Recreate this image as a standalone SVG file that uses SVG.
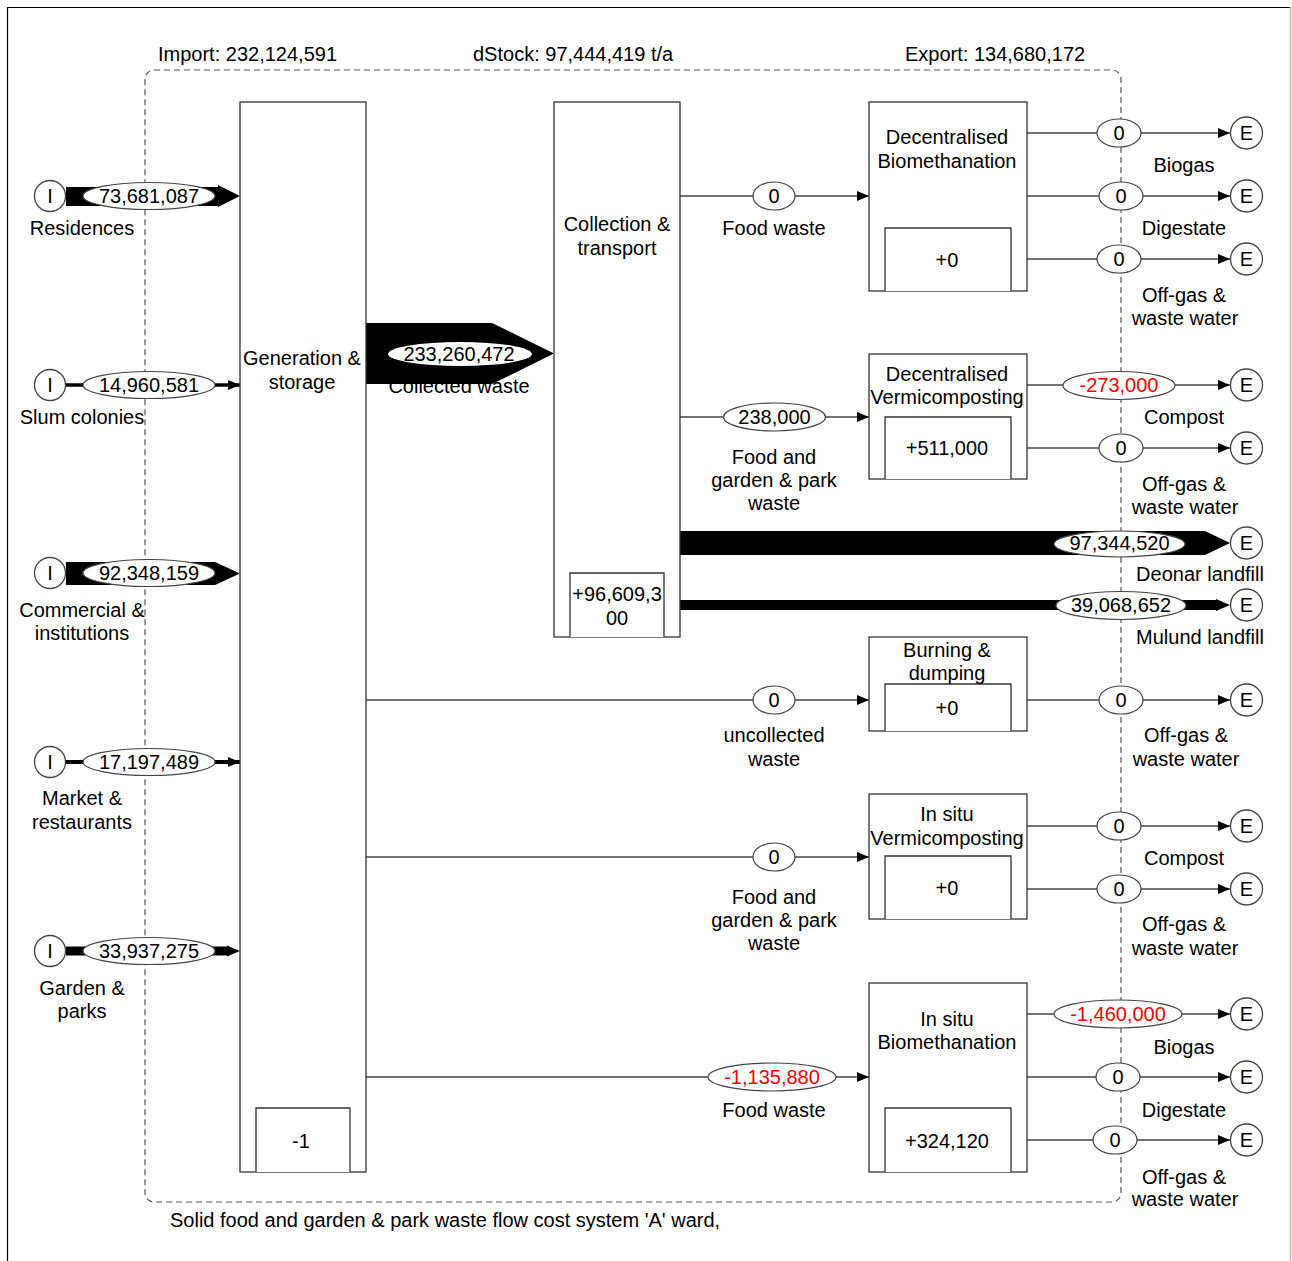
<svg xmlns="http://www.w3.org/2000/svg" width="1292" height="1261" viewBox="0 0 1292 1261">
<style>
text{font-family:"Liberation Sans",Arial,sans-serif;font-size:20px;fill:#000}
.c{text-anchor:middle}
.red{fill:#ff0000}
.box{fill:#fff;stroke:#333;stroke-width:1.3}
.inner{fill:#fff;stroke:#333;stroke-width:1.3}
.ln{fill:none;stroke:#444;stroke-width:1.4}
.band{fill:#000;stroke:none}
.ell{fill:#fff;stroke:#444;stroke-width:1.2}
.term{fill:#fff;stroke:#444;stroke-width:1.3}
.sys{fill:none;stroke:#555;stroke-width:1.2;stroke-dasharray:6 4}
</style>
<defs>
<marker id="ah" markerUnits="userSpaceOnUse" markerWidth="12" markerHeight="10" refX="12" refY="5" orient="auto" viewBox="0 0 12 10">
<path d="M0,0 L12,5 L0,10 z" fill="#000"/>
</marker>
</defs>
<rect width="1292" height="1261" fill="#fff"/>
<path d="M7.5,1261 V7.5 H1290" fill="none" stroke="#000" stroke-width="1.2"/>
<line x1="1290.5" y1="7" x2="1290.5" y2="1261" stroke="#bbb" stroke-width="1.5"/>

<g id="system-boundary">
<rect class="sys" x="145" y="70" width="976" height="1132" rx="9"/>
<text x="158" y="61">Import: 232,124,591</text>
<text x="473" y="61">dStock: 97,444,419 t/a</text>
<text x="905" y="61">Export: 134,680,172</text>
<text x="170" y="1227">Solid food and garden &amp; park waste flow cost system 'A' ward,</text>
</g>

<g id="connectors">
<!-- inputs -->
<polygon class="band" points="66,187 218,187 218,185 240,196 218,207 218,206 66,206"/>
<line class="ln" x1="66" y1="385" x2="240" y2="385" stroke="#000" style="stroke:#000;stroke-width:3.6" marker-end="url(#ah)"/>
<polygon class="band" points="66,562 215,562 240,573.5 215,585 66,585"/>
<line class="ln" x1="66" y1="762" x2="240" y2="762" style="stroke:#000;stroke-width:4.2" marker-end="url(#ah)"/>
<polygon class="band" points="66,946.5 227,946.5 227,945.5 240,951 227,956.5 227,955.5 66,955.5"/>
<ellipse class="ell" cx="149" cy="196" rx="66" ry="13.5"/>
<text class="c" x="149" y="203">73,681,087</text>
<ellipse class="ell" cx="149" cy="385" rx="66" ry="13.5"/>
<text class="c" x="149" y="392">14,960,581</text>
<ellipse class="ell" cx="149" cy="573" rx="66" ry="13.5"/>
<text class="c" x="149" y="580">92,348,159</text>
<ellipse class="ell" cx="149" cy="762" rx="66" ry="13.5"/>
<text class="c" x="149" y="769">17,197,489</text>
<ellipse class="ell" cx="149" cy="951" rx="66" ry="13.5"/>
<text class="c" x="149" y="958">33,937,275</text>

<!-- collected waste -->
<text class="c" x="459" y="393">Collected waste</text>
<polygon class="band" points="366,323 492,323 554,353.5 492,384 366,384"/>
<ellipse class="ell" cx="460" cy="354" rx="72" ry="12" style="stroke:none"/>
<text class="c" x="459" y="361">233,260,472</text>

<!-- from collection -->
<line class="ln" x1="680" y1="196" x2="869" y2="196" marker-end="url(#ah)"/>
<ellipse class="ell" cx="774" cy="196" rx="21" ry="14"/>
<text class="c" x="774" y="203">0</text>
<text class="c" x="774" y="235">Food waste</text>

<line class="ln" x1="680" y1="417" x2="869" y2="417" marker-end="url(#ah)"/>
<ellipse class="ell" cx="774.5" cy="417" rx="51" ry="14"/>
<text class="c" x="774.5" y="424">238,000</text>
<text class="c" x="774" y="464">Food and</text>
<text class="c" x="774" y="487">garden &amp; park</text>
<text class="c" x="774" y="510">waste</text>

<polygon class="band" points="680,531 1205,531 1230,543 1205,555 680,555"/>
<ellipse class="ell" cx="1119.5" cy="544" rx="65.5" ry="13"/>
<text class="c" x="1119.5" y="550">97,344,520</text>
<text class="c" x="1200" y="581">Deonar landfill</text>

<polygon class="band" points="680,600 1216,600 1216,599 1230,605 1216,611 1216,610 680,610"/>
<ellipse class="ell" cx="1121" cy="605.5" rx="65" ry="14"/>
<text class="c" x="1121" y="612">39,068,652</text>
<text class="c" x="1200" y="644">Mulund landfill</text>

<!-- from generation -->
<line class="ln" x1="366" y1="700" x2="869" y2="700" marker-end="url(#ah)"/>
<ellipse class="ell" cx="774" cy="700" rx="21" ry="14"/>
<text class="c" x="774" y="707">0</text>
<text class="c" x="774" y="742">uncollected</text>
<text class="c" x="774" y="766">waste</text>

<line class="ln" x1="366" y1="857" x2="869" y2="857" marker-end="url(#ah)"/>
<ellipse class="ell" cx="774" cy="857" rx="21" ry="14"/>
<text class="c" x="774" y="864">0</text>
<text class="c" x="774" y="904">Food and</text>
<text class="c" x="774" y="927">garden &amp; park</text>
<text class="c" x="774" y="950">waste</text>

<line class="ln" x1="366" y1="1077" x2="869" y2="1077" marker-end="url(#ah)"/>
<ellipse class="ell" cx="772" cy="1077" rx="64" ry="14"/>
<text class="c red" x="772" y="1084">-1,135,880</text>
<text class="c" x="774" y="1117">Food waste</text>

<!-- exports -->
<line class="ln" x1="1027" y1="133" x2="1230" y2="133" marker-end="url(#ah)"/>
<ellipse class="ell" cx="1119" cy="133" rx="22" ry="14"/>
<text class="c" x="1119" y="140">0</text>
<text class="c" x="1184" y="172">Biogas</text>

<line class="ln" x1="1027" y1="196" x2="1230" y2="196" marker-end="url(#ah)"/>
<ellipse class="ell" cx="1121" cy="196" rx="22" ry="14"/>
<text class="c" x="1121" y="203">0</text>
<text class="c" x="1184" y="235">Digestate</text>

<line class="ln" x1="1027" y1="259" x2="1230" y2="259" marker-end="url(#ah)"/>
<ellipse class="ell" cx="1119" cy="259" rx="22" ry="14"/>
<text class="c" x="1119" y="266">0</text>
<text class="c" x="1184" y="302">Off-gas &amp;</text>
<text class="c" x="1185" y="325">waste water</text>

<line class="ln" x1="1027" y1="385" x2="1230" y2="385" marker-end="url(#ah)"/>
<ellipse class="ell" cx="1119" cy="385.5" rx="56" ry="14"/>
<text class="c red" x="1119" y="392">-273,000</text>
<text class="c" x="1184" y="424">Compost</text>

<line class="ln" x1="1027" y1="448" x2="1230" y2="448" marker-end="url(#ah)"/>
<ellipse class="ell" cx="1121" cy="448" rx="22" ry="14"/>
<text class="c" x="1121" y="455">0</text>
<text class="c" x="1184" y="491">Off-gas &amp;</text>
<text class="c" x="1185" y="514">waste water</text>

<line class="ln" x1="1027" y1="700" x2="1230" y2="700" marker-end="url(#ah)"/>
<ellipse class="ell" cx="1121" cy="700" rx="22" ry="14"/>
<text class="c" x="1121" y="707">0</text>
<text class="c" x="1186" y="742">Off-gas &amp;</text>
<text class="c" x="1186" y="766">waste water</text>

<line class="ln" x1="1027" y1="826" x2="1230" y2="826" marker-end="url(#ah)"/>
<ellipse class="ell" cx="1119" cy="826" rx="22" ry="14"/>
<text class="c" x="1119" y="833">0</text>
<text class="c" x="1184" y="865">Compost</text>

<line class="ln" x1="1027" y1="889" x2="1230" y2="889" marker-end="url(#ah)"/>
<ellipse class="ell" cx="1119" cy="889" rx="22" ry="14"/>
<text class="c" x="1119" y="896">0</text>
<text class="c" x="1184" y="931">Off-gas &amp;</text>
<text class="c" x="1185" y="955">waste water</text>

<line class="ln" x1="1027" y1="1014" x2="1230" y2="1014" marker-end="url(#ah)"/>
<ellipse class="ell" cx="1118" cy="1014" rx="64" ry="14"/>
<text class="c red" x="1118" y="1021">-1,460,000</text>
<text class="c" x="1184" y="1054">Biogas</text>

<line class="ln" x1="1027" y1="1077" x2="1230" y2="1077" marker-end="url(#ah)"/>
<ellipse class="ell" cx="1118" cy="1077" rx="22" ry="14"/>
<text class="c" x="1118" y="1084">0</text>
<text class="c" x="1184" y="1117">Digestate</text>

<line class="ln" x1="1027" y1="1140" x2="1230" y2="1140" marker-end="url(#ah)"/>
<ellipse class="ell" cx="1115" cy="1140" rx="22" ry="14"/>
<text class="c" x="1115" y="1147">0</text>
<text class="c" x="1184" y="1184">Off-gas &amp;</text>
<text class="c" x="1185" y="1206">waste water</text>
</g>

<g id="inputs">
<g id="in-residences"><circle class="term" cx="50" cy="196" r="15.5"/><text class="c" x="50" y="203">I</text><text class="c" x="82" y="235">Residences</text></g>
<g id="in-slum"><circle class="term" cx="50" cy="385" r="15.5"/><text class="c" x="50" y="392">I</text><text class="c" x="82" y="424">Slum colonies</text></g>
<g id="in-commercial"><circle class="term" cx="50" cy="573" r="15.5"/><text class="c" x="50" y="580">I</text><text class="c" x="82" y="617">Commercial &amp;</text><text class="c" x="82" y="640">institutions</text></g>
<g id="in-market"><circle class="term" cx="50" cy="762" r="15.5"/><text class="c" x="50" y="769">I</text><text class="c" x="82" y="805">Market &amp;</text><text class="c" x="82" y="829">restaurants</text></g>
<g id="in-garden"><circle class="term" cx="50" cy="951" r="15.5"/><text class="c" x="50" y="958">I</text><text class="c" x="82" y="995">Garden &amp;</text><text class="c" x="82" y="1018">parks</text></g>
</g>

<g id="exports">
<g id="e1"><circle class="term" cx="1246.5" cy="133" r="16"/><text class="c" x="1246.5" y="140">E</text></g>
<g id="e2"><circle class="term" cx="1246.5" cy="196" r="16"/><text class="c" x="1246.5" y="203">E</text></g>
<g id="e3"><circle class="term" cx="1246.5" cy="259" r="16"/><text class="c" x="1246.5" y="266">E</text></g>
<g id="e4"><circle class="term" cx="1246.5" cy="385" r="16"/><text class="c" x="1246.5" y="392">E</text></g>
<g id="e5"><circle class="term" cx="1246.5" cy="448" r="16"/><text class="c" x="1246.5" y="455">E</text></g>
<g id="e6"><circle class="term" cx="1246.5" cy="543" r="16"/><text class="c" x="1246.5" y="550">E</text></g>
<g id="e7"><circle class="term" cx="1246.5" cy="605" r="16"/><text class="c" x="1246.5" y="612">E</text></g>
<g id="e8"><circle class="term" cx="1246.5" cy="700" r="16"/><text class="c" x="1246.5" y="707">E</text></g>
<g id="e9"><circle class="term" cx="1246.5" cy="826" r="16"/><text class="c" x="1246.5" y="833">E</text></g>
<g id="e10"><circle class="term" cx="1246.5" cy="889" r="16"/><text class="c" x="1246.5" y="896">E</text></g>
<g id="e11"><circle class="term" cx="1246.5" cy="1014" r="16"/><text class="c" x="1246.5" y="1021">E</text></g>
<g id="e12"><circle class="term" cx="1246.5" cy="1077" r="16"/><text class="c" x="1246.5" y="1084">E</text></g>
<g id="e13"><circle class="term" cx="1246.5" cy="1140" r="16"/><text class="c" x="1246.5" y="1147">E</text></g>
</g>

<g id="generation-storage">
<rect class="box" x="240" y="102" width="126" height="1070"/>
<path class="inner" d="M256,1172 V1108 H350 V1172"/>
<text class="c" x="302" y="365">Generation &amp;</text>
<text class="c" x="302" y="389">storage</text>
<text class="c" x="301" y="1148">-1</text>
</g>

<g id="collection-transport">
<rect class="box" x="554" y="102" width="126" height="535"/>
<path class="inner" d="M570,637 V573 H664 V637"/>
<text class="c" x="617" y="231">Collection &amp;</text>
<text class="c" x="617" y="255">transport</text>
<text class="c" x="617" y="601">+96,609,3</text>
<text class="c" x="617" y="625">00</text>
</g>

<g id="decentralised-biomethanation">
<rect class="box" x="869" y="102" width="158" height="189"/>
<path class="inner" d="M885,291 V228 H1011 V291"/>
<text class="c" x="947" y="144">Decentralised</text>
<text class="c" x="947" y="168">Biomethanation</text>
<text class="c" x="947" y="267">+0</text>
</g>

<g id="decentralised-vermicomposting">
<rect class="box" x="869" y="354" width="158" height="125"/>
<path class="inner" d="M885,479 V417 H1011 V479"/>
<text class="c" x="947" y="381">Decentralised</text>
<text class="c" x="947" y="404">Vermicomposting</text>
<text class="c" x="947" y="455">+511,000</text>
</g>

<g id="burning-dumping">
<rect class="box" x="869" y="637" width="158" height="94"/>
<path class="inner" d="M885,731 V684 H1011 V731"/>
<text class="c" x="947" y="657">Burning &amp;</text>
<text class="c" x="947" y="680">dumping</text>
<text class="c" x="947" y="715">+0</text>
</g>

<g id="insitu-vermicomposting">
<rect class="box" x="869" y="794" width="158" height="125"/>
<path class="inner" d="M885,919 V856 H1011 V919"/>
<text class="c" x="947" y="821">In situ</text>
<text class="c" x="947" y="845">Vermicomposting</text>
<text class="c" x="947" y="895">+0</text>
</g>

<g id="insitu-biomethanation">
<rect class="box" x="869" y="983" width="158" height="189"/>
<path class="inner" d="M885,1172 V1108 H1011 V1172"/>
<text class="c" x="947" y="1026">In situ</text>
<text class="c" x="947" y="1049">Biomethanation</text>
<text class="c" x="947" y="1148">+324,120</text>
</g>
</svg>
